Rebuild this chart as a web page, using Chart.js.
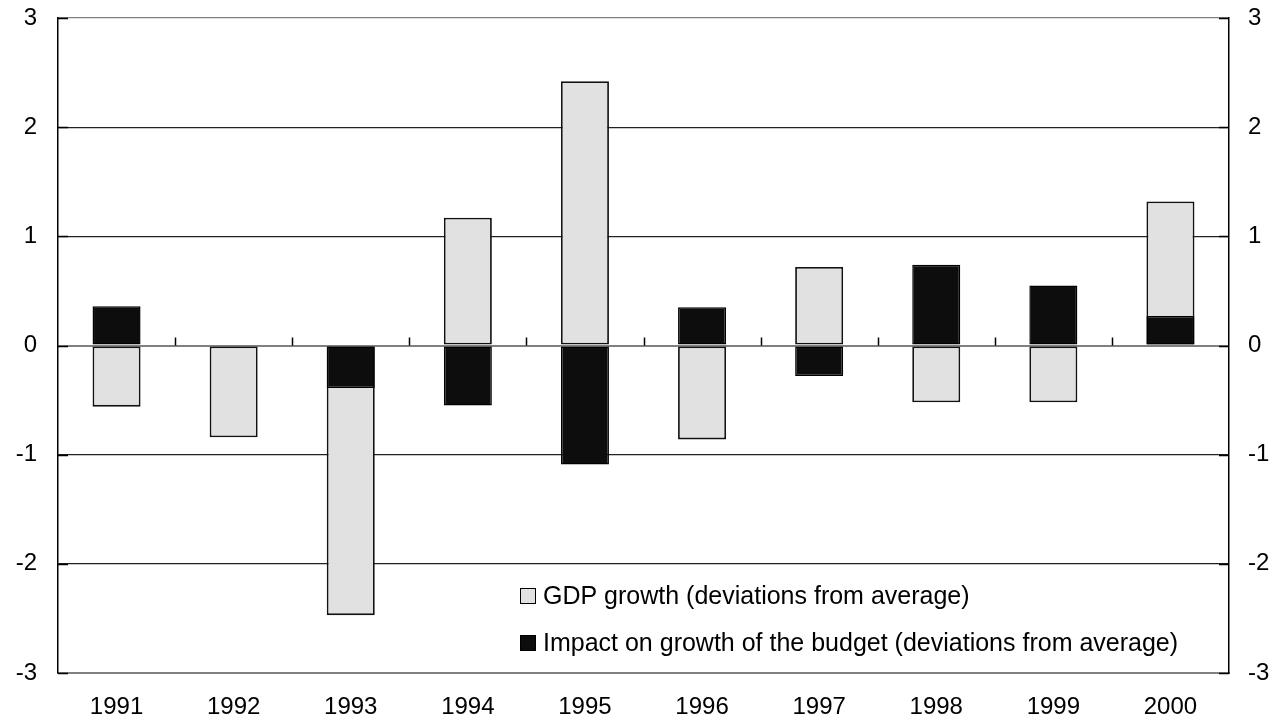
<!DOCTYPE html>
<html>
<head>
<meta charset="utf-8">
<script src="https://cdn.jsdelivr.net/npm/chart.js@4/dist/chart.umd.min.js"></script>
<style>
  html, body { margin: 0; padding: 0; background: #fff; }
  #wrap { width: 1277px; height: 724px; position: relative; }
</style>
</head>
<body>
<div id="wrap"><canvas id="chart" width="1277" height="724"></canvas></div>
<script>
// Years on the category axis
const years = ['1991', '1992', '1993', '1994', '1995', '1996', '1997', '1998', '1999', '2000'];

// GDP growth, deviations from average (percentage points)
const gdpGrowth = [-0.56, -0.84, -2.47, 1.17, 2.42, -0.86, 0.72, -0.52, -0.52, 1.32];

// Impact on growth of the budget, deviations from average
const budgetImpact = [0.36, 0.01, -0.39, -0.55, -1.09, 0.35, -0.28, 0.74, 0.55, 0.27];

// Value axis ticks
const yTicks = [-3, -2, -1, 0, 1, 2, 3];

// Legend entries (label, fill)
const legendLabels = ['GDP growth (deviations from average)', 'Impact on growth of the budget (deviations from average)'];
const legendFills = ['#e1e1e1', '#0d0d0d'];

const FONT = '"Liberation Sans", Arial, Helvetica, sans-serif';

// Small marks on the zero line between categories, plus inward ticks on both value axes
const axisMarks = {
  id: 'axisMarks',
  afterDraw(chart) {
    const { ctx, chartArea } = chart;
    const xs = chart.scales.x;
    const ys = chart.scales.y;
    const y0 = ys.getPixelForValue(0);
    ctx.save();
    ctx.strokeStyle = '#000';
    ctx.lineWidth = 1.5;
    ctx.beginPath();
    for (let i = 1; i < years.length; i++) {
      const xb = Math.round((xs.getPixelForValue(i - 1) + xs.getPixelForValue(i)) / 2) + 0.5;
      ctx.moveTo(xb, y0 - 8);
      ctx.lineTo(xb, y0);
    }
    yTicks.forEach(v => {
      const yy = Math.round(ys.getPixelForValue(v)) + 0.5;
      ctx.moveTo(chartArea.left, yy);
      ctx.lineTo(chartArea.left + 10, yy);
      ctx.moveTo(chartArea.right - 10, yy);
      ctx.lineTo(chartArea.right, yy);
    });
    ctx.stroke();
    ctx.restore();
  }
};

// Legend drawn inside the plot, lower right
const innerLegend = {
  id: 'innerLegend',
  afterDraw(chart) {
    const { ctx, chartArea } = chart;
    const boxX = chartArea.right - 709;
    const rows = [chartArea.bottom - 77, chartArea.bottom - 30];
    ctx.save();
    ctx.font = '25px ' + FONT;
    ctx.textBaseline = 'middle';
    ctx.textAlign = 'left';
    legendLabels.forEach((label, i) => {
      const cy = rows[i];
      ctx.fillStyle = legendFills[i];
      ctx.fillRect(boxX, cy - 8, 16, 16);
      ctx.strokeStyle = '#000';
      ctx.lineWidth = 1;
      ctx.strokeRect(boxX + 0.5, cy - 7.5, 15, 15);
      ctx.fillStyle = '#000';
      ctx.fillText(label, boxX + 23, cy + 1);
    });
    ctx.restore();
  }
};

// Value axes keep a fixed width and add no extra vertical padding
function fitValueAxis(width) {
  return function (scale) {
    scale.width = width;
    scale.paddingTop = 0;
    scale.paddingBottom = 0;
  };
}

new Chart(document.getElementById('chart'), {
  type: 'bar',
  data: {
    labels: years,
    datasets: [
      {
        label: legendLabels[0],
        data: gdpGrowth,
        backgroundColor: '#e1e1e1',
        borderColor: '#111',
        borderWidth: 1.8,
        borderSkipped: false,
        grouped: false,
        order: 2
      },
      {
        label: legendLabels[1],
        data: budgetImpact,
        backgroundColor: '#0d0d0d',
        borderColor: '#000',
        borderWidth: 1.5,
        borderSkipped: false,
        grouped: false,
        order: 1
      }
    ]
  },
  options: {
    responsive: false,
    animation: false,
    devicePixelRatio: 1,
    layout: { padding: { top: 18, left: 0, right: 0, bottom: 0 } },
    datasets: { bar: { barPercentage: 0.41, categoryPercentage: 1.0 } },
    plugins: {
      legend: { display: false },
      tooltip: { enabled: false },
      title: { display: false }
    },
    scales: {
      x: {
        type: 'category',
        offset: true,
        grid: { display: false, drawTicks: false },
        border: { display: true, color: '#808080', width: 2 },
        ticks: { color: '#000', font: { family: FONT, size: 24 }, padding: 20, maxRotation: 0 },
        afterFit(scale) { scale.height = 51; }
      },
      y: {
        position: 'left',
        min: -3,
        max: 3,
        afterBuildTicks(scale) { scale.ticks = yTicks.map(v => ({ value: v })); },
        grid: {
          drawTicks: false,
          color: ctx => (ctx.tick && (ctx.tick.value === 0 || Math.abs(ctx.tick.value) === 3)) ? '#808080' : '#222',
          lineWidth: ctx => (ctx.tick && ctx.tick.value === 0) ? 2 : 1.2
        },
        border: { display: true, color: '#000', width: 1.5 },
        ticks: { color: '#000', font: { family: FONT, size: 24 }, padding: 21 },
        afterFit: fitValueAxis(58)
      },
      y2: {
        position: 'right',
        min: -3,
        max: 3,
        afterBuildTicks(scale) { scale.ticks = yTicks.map(v => ({ value: v })); },
        grid: { drawOnChartArea: false, drawTicks: false },
        border: { display: true, color: '#000', width: 1.5 },
        ticks: { color: '#000', font: { family: FONT, size: 24 }, padding: 19 },
        afterFit: fitValueAxis(48)
      }
    }
  },
  plugins: [axisMarks, innerLegend]
});
</script>
</body>
</html>
